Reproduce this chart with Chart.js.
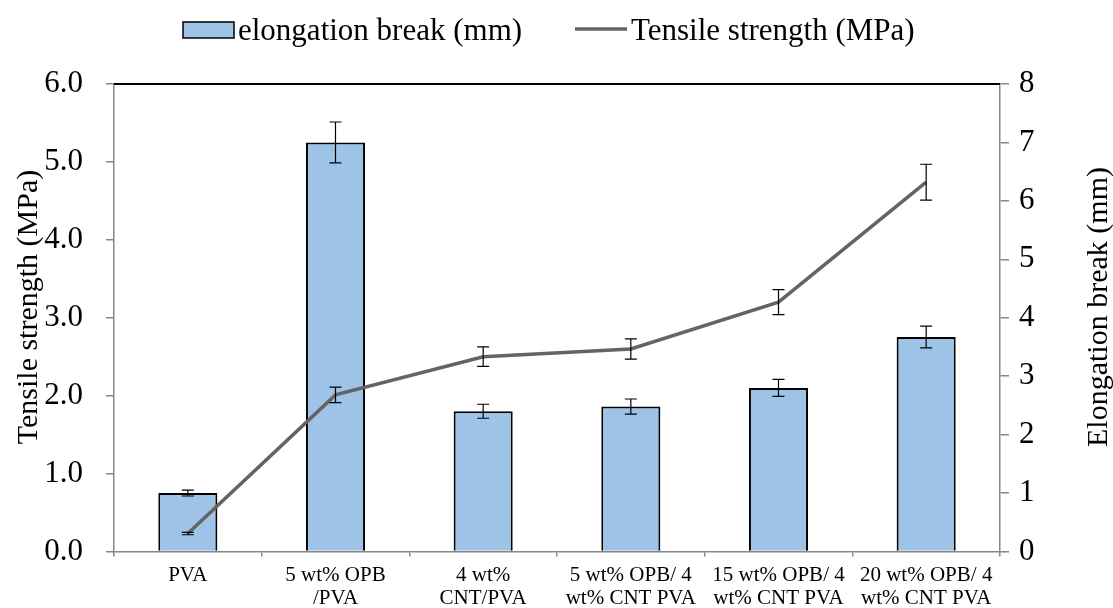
<!DOCTYPE html>
<html>
<head>
<meta charset="utf-8">
<script src="https://cdn.jsdelivr.net/npm/chart.js@4/dist/chart.umd.min.js"></script>
<style>
  html, body { margin: 0; padding: 0; background: #fff; }
  canvas { display: block; }
</style>
</head>
<body>
<canvas id="c" width="1113" height="608"></canvas>
<script>
// Sample names (multi-line category labels)
const categories = [
  ['PVA'],
  ['5 wt% OPB', '/PVA'],
  ['4 wt%', 'CNT/PVA'],
  ['5 wt% OPB/ 4', 'wt% CNT PVA'],
  ['15 wt% OPB/ 4', 'wt% CNT PVA'],
  ['20 wt% OPB/ 4', 'wt% CNT PVA']
];
// Elongation at break (mm), right axis, with standard deviation
const elongation = [1.0, 7.0, 2.4, 2.48, 2.8, 3.67];
const elongationErr = [0.05, 0.35, 0.12, 0.13, 0.145, 0.185];
// Tensile strength (MPa), left axis, with standard deviation
const tensile = [0.23, 2.01, 2.5, 2.6, 3.2, 4.74];
const tensileErr = [0.015, 0.1, 0.125, 0.13, 0.16, 0.23];
// Axis ranges
const tensileRange = [0, 6];
const elongationRange = [0, 8];

const SERIF = "'Liberation Serif', 'Times New Roman', serif";
const BAR_FILL = '#9DC3E6';
const LINE_GRAY = '#646464';
const AXIS_GRAY = '#878787';

// Vertical error bars with caps for both series
const errorBars = {
  id: 'errorBars',
  afterDatasetsDraw(chart) {
    const ctx = chart.ctx;
    const cap = 6;
    ctx.save();
    ctx.strokeStyle = '#000';
    ctx.lineWidth = 1.2;
    chart.data.datasets.forEach((ds, di) => {
      const meta = chart.getDatasetMeta(di);
      const scale = chart.scales[ds.yAxisID];
      ds.errors.forEach((e, i) => {
        const x = meta.data[i].x;
        const yTop = scale.getPixelForValue(ds.data[i] + e);
        const yBot = scale.getPixelForValue(ds.data[i] - e);
        ctx.beginPath();
        ctx.moveTo(x, yTop); ctx.lineTo(x, yBot);
        ctx.moveTo(x - cap, yTop); ctx.lineTo(x + cap, yTop);
        ctx.moveTo(x - cap, yBot); ctx.lineTo(x + cap, yBot);
        ctx.stroke();
      });
    });
    ctx.restore();
  }
};

// Top frame line, legend and axis titles
const decorations = {
  id: 'decorations',
  afterDraw(chart) {
    const ctx = chart.ctx;
    const a = chart.chartArea;
    ctx.save();
    // top border of the plot area
    ctx.strokeStyle = '#000';
    ctx.lineWidth = 2;
    ctx.beginPath();
    ctx.moveTo(a.left, a.top);
    ctx.lineTo(a.right, a.top);
    ctx.stroke();

    // legend
    const barDs = chart.data.datasets[1];
    const lineDs = chart.data.datasets[0];
    ctx.font = '31px ' + SERIF;
    ctx.textBaseline = 'alphabetic';
    ctx.textAlign = 'left';
    ctx.fillStyle = BAR_FILL;
    ctx.fillRect(183, 22, 51, 16);
    ctx.strokeStyle = '#000';
    ctx.lineWidth = 1.5;
    ctx.strokeRect(183, 22, 51, 16);
    ctx.fillStyle = '#000';
    ctx.fillText(barDs.label, 238, 40);
    ctx.strokeStyle = LINE_GRAY;
    ctx.lineWidth = 3.5;
    ctx.beginPath();
    ctx.moveTo(575, 29);
    ctx.lineTo(627, 29);
    ctx.stroke();
    ctx.fillText(lineDs.label, 631, 40);

    // axis titles (both read bottom to top)
    ctx.font = '30px ' + SERIF;
    ctx.textAlign = 'center';
    ctx.textBaseline = 'middle';
    const midY = 307;
    ctx.save();
    ctx.translate(29, midY);
    ctx.rotate(-Math.PI / 2);
    ctx.fillText('Tensile strength (MPa)', 0, 0);
    ctx.restore();
    ctx.save();
    ctx.translate(1099, midY);
    ctx.rotate(-Math.PI / 2);
    ctx.fillText('Elongation break (mm)', 0, 0);
    ctx.restore();
    ctx.restore();
  }
};

new Chart(document.getElementById('c'), {
  type: 'bar',
  data: {
    labels: categories,
    datasets: [
      {
        type: 'line',
        label: 'Tensile strength (MPa)',
        data: tensile,
        errors: tensileErr,
        yAxisID: 'y',
        borderColor: LINE_GRAY,
        borderWidth: 3.5,
        pointRadius: 0,
        tension: 0,
        fill: false,
        order: 0
      },
      {
        type: 'bar',
        label: 'elongation break (mm)',
        data: elongation,
        errors: elongationErr,
        yAxisID: 'y1',
        backgroundColor: BAR_FILL,
        borderColor: '#000',
        borderWidth: 2,
        barPercentage: 0.4,
        categoryPercentage: 1.0,
        order: 1
      }
    ]
  },
  options: {
    responsive: false,
    animation: false,
    devicePixelRatio: 1,
    layout: { padding: { top: 84, left: 0, right: 0, bottom: 0 } },
    plugins: {
      legend: { display: false },
      tooltip: { enabled: false }
    },
    scales: {
      x: {
        grid: { offset: true, drawOnChartArea: false, drawTicks: true, tickLength: 5, color: AXIS_GRAY, lineWidth: 1.5 },
        border: { color: AXIS_GRAY, width: 1.5 },
        ticks: {
          color: '#000',
          font: { family: SERIF, size: 21, lineHeight: 1.12 },
          padding: 7,
          maxRotation: 0,
          autoSkip: false
        },
        afterFit(s) { s.height = 56.5; }
      },
      y: {
        position: 'left',
        min: tensileRange[0],
        max: tensileRange[1],
        grid: { drawOnChartArea: false, drawTicks: true, tickLength: 8, color: AXIS_GRAY, lineWidth: 1.5 },
        border: { color: AXIS_GRAY, width: 1.5 },
        ticks: {
          stepSize: 1,
          color: '#000',
          font: { family: SERIF, size: 31 },
          padding: 23,
          callback: v => Number(v).toFixed(1)
        },
        afterFit(s) { s.width = 114; }
      },
      y1: {
        position: 'right',
        min: elongationRange[0],
        max: elongationRange[1],
        grid: { drawOnChartArea: false, drawTicks: true, tickLength: 9, color: AXIS_GRAY, lineWidth: 1.5 },
        border: { color: AXIS_GRAY, width: 1.5 },
        ticks: {
          stepSize: 1,
          color: '#000',
          font: { family: SERIF, size: 31 },
          padding: 10
        },
        afterFit(s) { s.width = 113; }
      }
    }
  },
  plugins: [errorBars, decorations]
});
</script>
</body>
</html>
